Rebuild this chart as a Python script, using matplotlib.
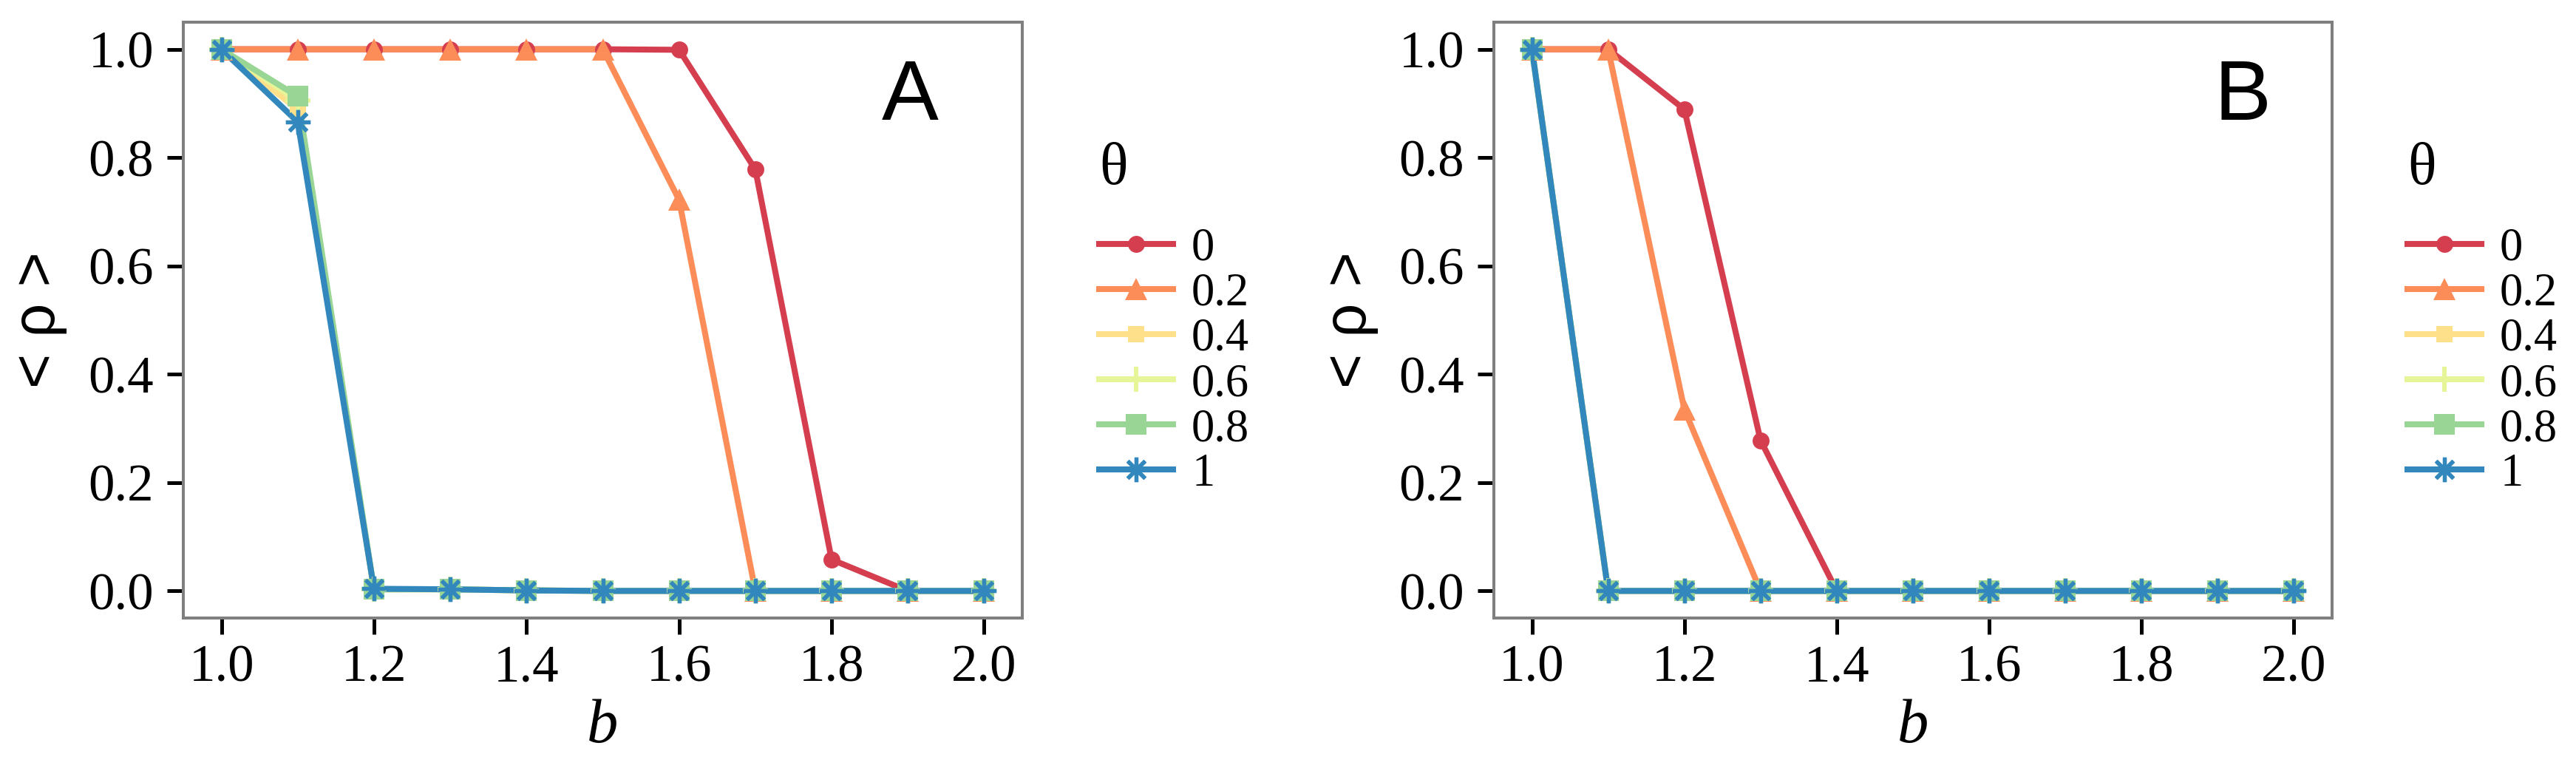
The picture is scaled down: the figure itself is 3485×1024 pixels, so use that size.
import matplotlib
matplotlib.use('Agg')
import matplotlib.pyplot as plt
from matplotlib.lines import Line2D

# ---------------- data ----------------
b_values = [1.0, 1.1, 1.2, 1.3, 1.4, 1.5, 1.6, 1.7, 1.8, 1.9, 2.0]
theta_labels = ['0', '0.2', '0.4', '0.6', '0.8', '1']
xtick_values = [1.0, 1.2, 1.4, 1.6, 1.8, 2.0]
xtick_labels = ['1.0', '1.2', '1.4', '1.6', '1.8', '2.0']
ytick_values = [0.0, 0.2, 0.4, 0.6, 0.8, 1.0]
ytick_labels = ['0.0', '0.2', '0.4', '0.6', '0.8', '1.0']

# Panel A
rho_A_t0 = [1.0, 1.0, 1.0, 1.0, 1.0, 1.0, 0.999, 0.778, 0.058, 0.0, 0.0]
rho_A_t02 = [1.0, 1.0, 1.0, 1.0, 1.0, 1.0, 0.722, 0.0, 0.0, 0.0, 0.0]
rho_A_t04 = [1.0, 0.889, 0.003, 0.003, 0.001, 0.0, 0.0, 0.0, 0.0, 0.0, 0.0]
rho_A_t06 = [1.0, 0.905, 0.003, 0.003, 0.001, 0.0, 0.0, 0.0, 0.0, 0.0, 0.0]
rho_A_t08 = [1.0, 0.913, 0.003, 0.003, 0.001, 0.0, 0.0, 0.0, 0.0, 0.0, 0.0]
rho_A_t1 = [1.0, 0.866, 0.004, 0.003, 0.001, 0.0, 0.0, 0.0, 0.0, 0.0, 0.0]

# Panel B
rho_B_t0 = [1.0, 1.0, 0.889, 0.278, 0.0, 0.0, 0.0, 0.0, 0.0, 0.0, 0.0]
rho_B_t02 = [1.0, 1.0, 0.335, 0.0, 0.0, 0.0, 0.0, 0.0, 0.0, 0.0, 0.0]
rho_B_t04 = [1.0, 0.0, 0.0, 0.0, 0.0, 0.0, 0.0, 0.0, 0.0, 0.0, 0.0]
rho_B_t06 = [1.0, 0.0, 0.0, 0.0, 0.0, 0.0, 0.0, 0.0, 0.0, 0.0, 0.0]
rho_B_t08 = [1.0, 0.0, 0.0, 0.0, 0.0, 0.0, 0.0, 0.0, 0.0, 0.0, 0.0]
rho_B_t1 = [1.0, 0.0, 0.0, 0.0, 0.0, 0.0, 0.0, 0.0, 0.0, 0.0, 0.0]

series_A = [rho_A_t0, rho_A_t02, rho_A_t04, rho_A_t06, rho_A_t08, rho_A_t1]
series_B = [rho_B_t0, rho_B_t02, rho_B_t04, rho_B_t06, rho_B_t08, rho_B_t1]

# ---------------- styles ----------------
colors = ['#D53E4F', '#FC8D59', '#FEE08B', '#E6F598', '#99D594', '#3288BD']
marker_styles = [
    dict(marker='o', markersize=16.5, markeredgewidth=0),
    dict(marker='^', markersize=21, markeredgewidth=0),
    dict(marker='s', markersize=16, markeredgewidth=0),
    dict(marker='+', markersize=24, markeredgewidth=4.3),
    dict(marker='s', markersize=19.5, markeredgewidth=0),
    dict(marker=(8, 2, 0), markersize=24, markeredgewidth=3.8),
]
LW = 5.8
SERIF = 'Liberation Serif'
SANS = 'Liberation Sans'
SPINE = '#7F7F7F'

W, H = 3485, 1024
fig = plt.figure(figsize=(W / 100, H / 100), dpi=100)

ax_bottom = (H - 836) / H
ax_height = (836 - 30) / H
axA = fig.add_axes([248 / W, ax_bottom, 1135 / W, ax_height])
axB = fig.add_axes([2021 / W, ax_bottom, 1134 / W, ax_height])


def draw_panel(ax, series, letter, letter_x, legend_x):
    for vals, col in zip(series, colors):
        ax.plot(b_values, vals, color=col, lw=LW, solid_capstyle='butt',
                solid_joinstyle='round', zorder=2)
    for vals, col, ms in zip(series, colors, marker_styles):
        ax.plot(b_values, vals, linestyle='none', color=col,
                markerfacecolor=col, markeredgecolor=col, zorder=3, **ms)
    ax.set_xlim(0.95, 2.05)
    ax.set_ylim(-0.05, 1.05)
    ax.set_xticks(xtick_values)
    ax.set_xticklabels(xtick_labels, fontfamily=SERIF, fontsize=51)
    ax.set_yticks(ytick_values)
    ax.set_yticklabels(ytick_labels, fontfamily=SERIF, fontsize=51)
    ax.tick_params(axis='both', direction='out', length=15.8, width=3.6,
                   color='black')
    ax.tick_params(axis='y', pad=13)
    ax.tick_params(axis='x', pad=10)
    for sp in ax.spines.values():
        sp.set_color(SPINE)
        sp.set_linewidth(2.9)
    ax.set_xlabel('b', fontfamily=SERIF, fontstyle='italic', fontsize=61)
    ax.xaxis.set_label_coords(0.5, -0.135)
    ax.set_ylabel('< ρ >', fontfamily=SANS, fontsize=58)
    ax.yaxis.set_label_coords(-0.138, 0.5)
    ax.text(letter_x, 0.91, letter, fontfamily=SANS, fontsize=83,
            ha='center', va='center')

    handles = []
    for col, ms in zip(colors, marker_styles):
        handles.append(Line2D([], [], color=col, lw=LW, markerfacecolor=col,
                              markeredgecolor=col, **ms))
    leg = ax.legend(handles, theta_labels, loc='upper left',
                    bbox_to_anchor=(legend_x / W, (H - 193) / H),
                    bbox_transform=fig.transFigure, frameon=False,
                    prop={'family': SERIF, 'size': 45},
                    title='θ', title_fontproperties={'family': SERIF, 'size': 58},
                    alignment='left', borderpad=0, borderaxespad=0,
                    handlelength=1.6, handletextpad=0.4, labelspacing=0.05)
    leg._legend_box.sep = 30
    return leg


draw_panel(axA, series_A, 'A', 1.903, 1487)
draw_panel(axB, series_B, 'B', 1.933, 3257)

fig.savefig('out.png', dpi=100)
